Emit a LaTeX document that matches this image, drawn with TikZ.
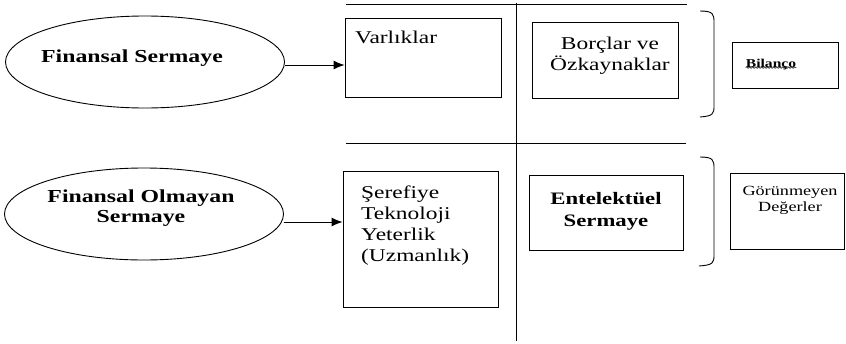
\documentclass[tikz,border=0pt]{standalone}
\usepackage{fontspec}
\setmainfont[FakeStretch=1.3]{Liberation Serif}
\usetikzlibrary{arrows.meta,decorations.pathmorphing,shapes.geometric}
\tikzset{
  oval/.style={draw,ellipse,line width=0.9pt,minimum width=279pt,minimum height=92pt,inner sep=0pt},
  ovaltext/.style={font=\fontsize{18.3}{20}\selectfont\bfseries,inner sep=0pt,align=center},
  box/.style={draw,rectangle,line width=0.9pt,inner sep=0pt},
  rule/.style={line width=0.9pt},
  brace/.style={line width=0.9pt},
  txt/.style={font=\fontsize{18}{21}\selectfont,inner sep=0pt,align=left},
  small/.style={font=\fontsize{14}{16}\selectfont,inner sep=0pt,align=center},
  conn/.style={line width=0.9pt,-{Latex[length=11pt,width=9pt]}}
}
\begin{document}
\begin{tikzpicture}[x=1pt,y=-1pt]
\useasboundingbox (0,0) rectangle (846,343);
% lines
\coordinate (t1) at (346,4); \coordinate (t2) at (687,4);
\coordinate (m1) at (346,143); \coordinate (m2) at (686,143);
\coordinate (v1) at (516,3); \coordinate (v2) at (516,341);
\draw[rule] (t1) -- (t2);
\draw[rule] (m1) -- (m2);
\draw[rule] (v1) -- (v2);
% ovals
\node[oval] (fs) at (145,62) {};
\node[ovaltext] (fst) at (132,58) {Finansal Sermaye};
\node[oval] (fos) at (144,214) {};
\node[ovaltext] (fost) at (141,208) {Finansal Olmayan\\Sermaye};
% boxes
\node[box,minimum width=156pt,minimum height=79pt] (var) at (423,57.5) {};
\node[txt,anchor=north west] (vart) at (355,31) {Varlıklar};
\node[box,minimum width=146pt,minimum height=76pt] (bor) at (605,60) {};
\node[txt,align=center] (bort) at (610,56) {Borçlar ve\\Özkaynaklar};
\node[box,minimum width=106pt,minimum height=46pt] (bil) at (785,65) {};
\node[font=\fontsize{12}{14}\selectfont\bfseries,inner sep=0pt] (bilt) at (771,65) {Bilanço};
\draw[line width=0.5pt,decorate,decoration={snake,amplitude=0.7pt,segment length=3pt}] ([yshift=3pt]bilt.south west) -- ([yshift=3pt]bilt.south east);
\node[box,minimum width=155pt,minimum height=136pt] (ser) at (420.5,239) {};
\node[txt,anchor=north west] (sert) at (361,186) {Şerefiye\\Teknoloji\\Yeterlik\\(Uzmanlık)};
\node[box,minimum width=154pt,minimum height=75pt] (ent) at (606,212.5) {};
\node[txt,font=\fontsize{17.5}{22}\selectfont\bfseries,align=center] (entt) at (606,211) {Entelektüel\\Sermaye};
\node[box,minimum width=114pt,minimum height=76pt] (gor) at (787,211) {};
\node[small] (gort) at (790,200) {Görünmeyen\\Değerler};
% connectors
\draw[conn] (fs.east |- 0,65) -- (var.west |- 0,65);
\draw[conn] (fos.east |- 0,222) -- (ser.west |- 0,222);
% braces
\draw[brace] (700,11) .. controls (713,11) and (714,14) .. (714,22) -- (714,106) .. controls (714,114) and (713,116) .. (700,117);
\draw[brace] (700,157) .. controls (713,157) and (714,160) .. (714,168) -- (714,255) .. controls (714,263) and (713,265) .. (699,266);
\end{tikzpicture}
\end{document}
